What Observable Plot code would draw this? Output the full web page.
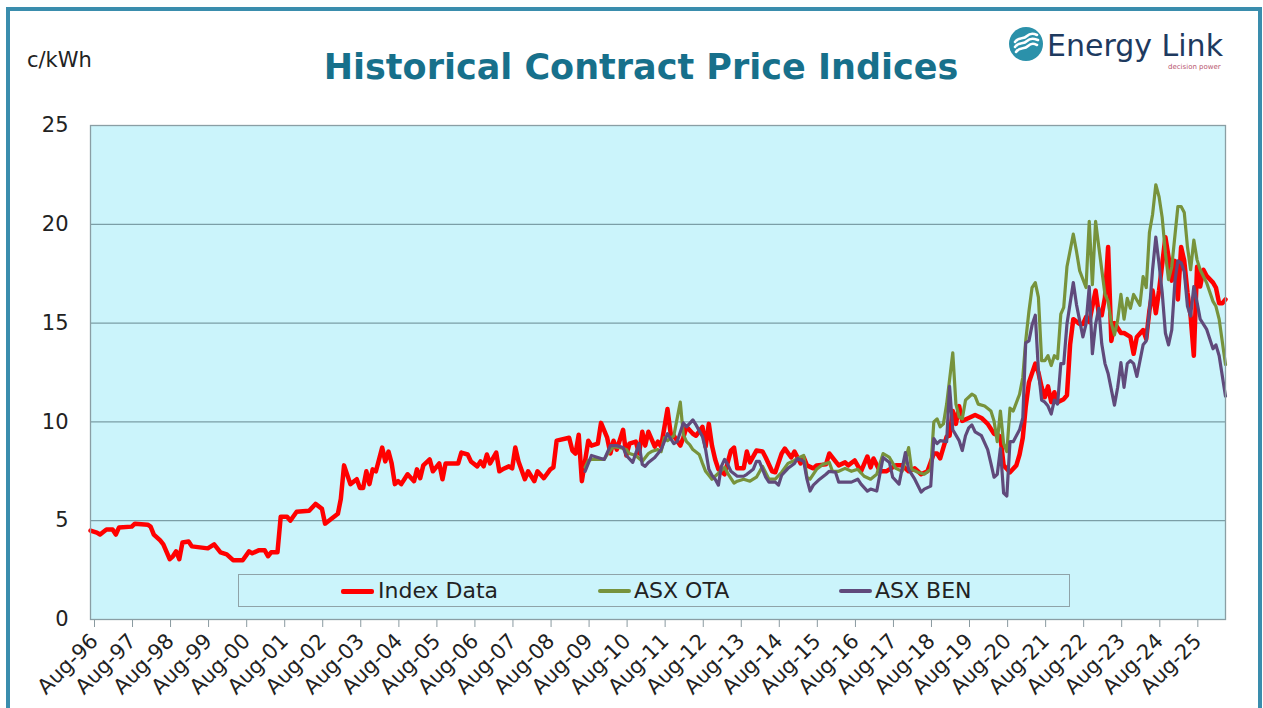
<!DOCTYPE html>
<html>
<head>
<meta charset="utf-8">
<script src="https://cdn.jsdelivr.net/npm/d3@7"></script>
<script src="https://cdn.jsdelivr.net/npm/@observablehq/plot@0.6"></script>
<style>
  html, body { margin: 0; padding: 0; background: #ffffff; }
  body { width: 1263px; height: 708px; overflow: hidden; position: relative; font-family: "DejaVu Sans", sans-serif; }
  #frame { position: absolute; left: 6px; top: 7px; width: 1256px; height: 760px; box-sizing: border-box; border: 4px solid #3a8dad; border-bottom: none; }
  #chart { position: absolute; left: 0; top: 0; }
  #title { position: absolute; left: 0; width: 1282px; top: 50px; text-align: center; font: bold 35px/1 "DejaVu Sans", sans-serif; color: #17708b; white-space: nowrap; }
  #unit { position: absolute; left: 27px; top: 50px; font: 21px/1 "DejaVu Sans", sans-serif; color: #222; }
  #logo { position: absolute; left: 1008px; top: 26px; }
  #brand { position: absolute; left: 1047px; top: 31px; height: 30px; font: 30px/30px "DejaVu Sans", sans-serif; color: #1e3a5f; white-space: nowrap; }
  #tag { position: absolute; left: 1168px; top: 64px; font: 7px/1 "DejaVu Sans", sans-serif; color: #b8566f; white-space: nowrap; }
  #legend { position: absolute; left: 238px; top: 574px; width: 832px; height: 33px; box-sizing: border-box; border: 1px solid #8fa3a8; background: #cbf4fb; }
  .sw { position: absolute; top: 14px; width: 33px; border-radius: 2px; }
  .lt { position: absolute; top: 5px; font: 22px/1 "DejaVu Sans", sans-serif; color: #222; white-space: nowrap; }
</style>
</head>
<body>
<div id="frame"></div>
<div id="chart"></div>
<div id="title">Historical Contract Price Indices</div>
<div id="unit">c/kWh</div>
<svg id="logo" width="36" height="36" viewBox="0 0 36 36">
  <circle cx="18" cy="18" r="17" fill="#2b91aa"/>
  <path d="M7 16 C11 10, 15 14, 19 10 S27 8, 29 9" stroke="#ffffff" stroke-width="2.6" fill="none" stroke-linecap="round"/>
  <path d="M7 21 C11 15, 15 19, 19 15 S27 13, 30 14" stroke="#ffffff" stroke-width="2.6" fill="none" stroke-linecap="round"/>
  <path d="M8 26 C12 20, 16 24, 20 20 S27 18, 29 19" stroke="#ffffff" stroke-width="2.6" fill="none" stroke-linecap="round"/>
</svg>
<div id="brand">Energy Link</div>
<div id="tag">decision power</div>
<div id="legend"></div>
<script>
// Months counted from Aug-1996 (0 = Aug-96), values in c/kWh
const startMonth = "1996-08";
const seriesNames = ["Index Data", "ASX OTA", "ASX BEN"];
const seriesColors = ["#ff0000", "#77933c", "#604a7b"];
const seriesWidths = [4.5, 3.2, 3.2];

const indexData = [[0,4.5],[2,4.4],[3,4.3],[5,4.55],[7,4.55],[8,4.3],[9,4.65],[13,4.7],[14,4.85],[18,4.8],[19,4.7],[20,4.3],[22,4.0],[23,3.8],[25,3.05],[26,3.2],[27,3.45],[28,3.05],[29,3.9],[31,3.95],[32,3.7],[37,3.6],[39,3.8],[41,3.4],[43,3.3],[45,3.0],[48,3.0],[50,3.45],[51,3.35],[53,3.5],[55,3.5],[56,3.2],[57,3.4],[59,3.4],[60,5.2],[62,5.2],[63,5.0],[65,5.45],[69,5.5],[71,5.85],[73,5.6],[74,4.85],[76,5.1],[78,5.35],[79,6.1],[80,7.8],[82,6.85],[84,7.1],[85,6.65],[86,6.65],[87,7.5],[88,6.85],[89,7.6],[90,7.5],[92,8.7],[93,8.0],[94,8.5],[95,7.9],[96,6.85],[97,7.0],[98,6.85],[100,7.35],[102,7.0],[103,7.6],[104,7.15],[105,7.8],[107,8.1],[108,7.5],[110,7.9],[111,7.1],[112,7.9],[116,7.9],[117,8.45],[119,8.35],[120,8.0],[122,7.75],[123,8.0],[124,7.75],[125,8.35],[126,7.9],[128,8.45],[129,7.5],[130,7.6],[132,7.75],[133,7.65],[134,8.7],[135,8.0],[137,7.1],[138,7.5],[140,7.0],[141,7.5],[143,7.15],[145,7.6],[146,7.7],[147,9.05],[151,9.2],[152,8.55],[153,8.4],[154,9.35],[155,7.0],[157,9.05],[158,8.8],[160,8.9],[161,9.95],[163,9.2],[164,8.4],[165,9.05],[166,8.6],[168,9.6],[169,8.3],[170,8.9],[172,9.0],[173,8.4],[174,9.5],[175,8.8],[176,9.5],[178,8.75],[179,9.0],[180,8.75],[182,10.65],[183,9.4],[184,9.3],[186,8.8],[187,9.2],[188,9.75],[190,9.4],[191,9.3],[193,9.75],[194,8.75],[195,9.9],[196,8.8],[197,8.1],[198,7.6],[200,7.35],[202,8.55],[203,8.7],[204,7.65],[206,7.65],[207,8.5],[208,7.95],[210,8.55],[212,8.5],[213,8.2],[215,7.5],[216,7.45],[218,8.4],[219,8.65],[221,8.2],[222,8.5],[224,7.9],[225,8.2],[226,7.8],[228,7.65],[229,7.8],[232,7.85],[233,8.4],[235,8.0],[236,7.8],[238,7.95],[239,7.8],[241,8.05],[243,7.5],[245,8.25],[246,7.7],[247,8.15],[249,7.5],[251,7.5],[254,7.8],[256,7.8],[258,7.5],[260,7.65],[262,7.35],[264,7.5],[266,8.4],[267,8.4],[268,8.15],[270,9.25],[271,9.3],[272,10.55],[273,9.9],[274,10.8],[275,10.05],[277,10.2],[279,10.35],[281,10.2],[283,9.9],[285,9.4],[286,9.35],[287,9.25],[288,7.8],[290,7.45],[292,7.8],[293,8.35],[294,9.2],[295,10.75],[296,12.0],[298,12.95],[299,12.5],[300,11.75],[301,11.25],[302,11.8],[303,11.0],[304,11.5],[305,11.0],[307,11.15],[308,11.35],[309,13.9],[310,15.2],[312,14.95],[313,14.95],[314,15.3],[315,15.05],[317,16.65],[318,15.45],[319,15.4],[320,16.3],[321,18.85],[322,14.1],[323,15.0],[325,14.5],[326,14.5],[328,14.3],[329,13.45],[330,14.3],[332,14.65],[333,14.2],[334,15.65],[335,16.65],[336,15.5],[337,16.65],[339,19.35],[340,18.35],[341,17.15],[342,18.15],[343,16.2],[344,18.85],[345,18.15],[346,16.55],[347,15.35],[348,13.35],[349,17.85],[350,16.85],[351,17.7],[352,17.4],[354,17.05],[355,16.8],[356,16.0],[357,16.0],[358,16.2]];

const otaData = [[156,7.7],[157,8.05],[158,8.1],[160,8.1],[162,8.1],[163,8.35],[165,8.75],[167,8.7],[169,8.6],[170,8.4],[172,8.3],[174,8.0],[176,8.4],[177,8.5],[179,8.6],[180,8.5],[181,9.2],[182,9.05],[184,9.3],[186,11.0],[187,9.35],[188,9.0],[189,8.85],[190,8.6],[192,8.35],[193,7.9],[194,7.5],[195,7.3],[196,7.1],[198,7.4],[200,7.7],[201,7.4],[203,6.9],[204,7.0],[206,7.1],[208,7.0],[210,7.2],[212,7.75],[214,7.1],[216,7.1],[218,7.45],[220,7.9],[222,8.05],[223,8.15],[225,8.3],[226,7.2],[227,7.1],[229,7.6],[231,7.85],[233,7.95],[234,7.5],[236,7.5],[238,7.65],[240,7.5],[242,7.6],[244,7.25],[246,7.1],[248,7.35],[250,8.4],[252,8.2],[254,7.65],[256,7.5],[258,8.7],[259,7.6],[261,7.45],[263,7.35],[265,7.6],[266,10.0],[267,10.15],[268,9.75],[269,9.9],[270,10.9],[272,13.5],[273,10.9],[274,10.25],[275,10.15],[276,11.1],[278,11.4],[279,11.3],[280,10.9],[282,10.8],[284,10.55],[285,10.05],[286,9.0],[287,10.55],[288,8.9],[289,8.5],[290,10.7],[291,10.55],[293,11.4],[294,12.25],[295,14.1],[296,15.6],[297,16.8],[298,17.05],[299,16.3],[300,13.1],[301,13.1],[302,13.35],[303,12.85],[304,13.35],[305,13.2],[306,15.45],[307,15.8],[308,17.85],[310,19.5],[311,18.65],[312,17.65],[314,16.8],[315,20.15],[316,16.95],[317,20.15],[318,18.85],[320,16.45],[321,16.1],[322,15.0],[323,14.4],[324,15.15],[325,16.45],[326,15.2],[327,16.25],[328,15.75],[329,16.45],[331,15.9],[332,17.35],[333,16.8],[334,19.6],[335,20.5],[336,22.0],[337,21.4],[338,20.35],[339,18.55],[340,17.2],[341,17.85],[343,20.9],[344,20.9],[345,20.6],[346,18.85],[347,17.7],[348,19.2],[349,18.2],[350,17.7],[352,17.05],[354,16.1],[355,15.85],[356,15.2],[358,12.9]];

const benData = [[156,7.5],[157,7.9],[158,8.3],[160,8.2],[162,8.1],[164,8.8],[166,8.8],[168,8.7],[169,8.3],[171,7.95],[173,8.9],[174,7.85],[175,7.75],[176,7.95],[178,8.2],[180,8.6],[182,9.4],[184,8.9],[185,9.0],[187,9.95],[188,9.75],[190,10.1],[191,9.85],[193,9.25],[194,8.6],[195,7.6],[196,7.3],[197,7.1],[198,6.8],[199,7.75],[200,8.1],[201,7.85],[202,7.5],[204,7.25],[206,7.25],[207,7.35],[209,7.6],[210,8.0],[211,8.0],[212,7.6],[213,7.2],[214,6.95],[216,6.95],[217,6.8],[218,7.3],[220,7.65],[222,7.9],[223,8.15],[225,8.0],[226,7.1],[227,6.5],[228,6.8],[230,7.1],[232,7.35],[233,7.5],[235,7.45],[236,6.95],[238,6.95],[240,6.95],[242,7.1],[243,6.85],[245,6.5],[246,6.6],[248,6.5],[249,7.35],[250,8.2],[252,7.95],[253,7.2],[255,6.85],[256,7.65],[257,8.45],[258,7.6],[260,7.1],[262,6.45],[263,6.6],[265,6.75],[266,9.15],[267,8.9],[268,9.05],[270,9.0],[271,11.8],[272,9.6],[274,9.05],[275,8.55],[276,9.3],[277,9.7],[278,9.85],[279,9.5],[281,9.3],[283,8.6],[284,7.9],[285,7.2],[286,7.35],[287,8.65],[288,6.4],[289,6.25],[290,9.0],[291,9.0],[293,9.6],[294,10.2],[295,14.0],[296,14.1],[297,14.9],[298,15.4],[299,12.6],[300,11.1],[301,11.0],[302,10.8],[303,10.4],[304,11.1],[305,10.9],[306,12.95],[307,12.95],[308,14.95],[310,17.05],[311,15.95],[313,14.3],[314,14.95],[315,16.85],[316,13.45],[317,14.95],[318,15.75],[319,13.95],[320,12.95],[321,12.45],[323,10.85],[324,11.75],[325,13.0],[326,11.75],[327,12.95],[328,13.1],[329,12.95],[330,12.3],[332,13.9],[333,14.1],[334,15.65],[335,17.7],[336,19.35],[337,18.0],[338,16.55],[339,14.5],[340,13.9],[341,14.65],[342,17.15],[343,18.15],[344,18.05],[345,17.6],[346,15.85],[347,15.35],[348,16.85],[349,16.05],[350,15.2],[352,14.7],[354,13.7],[355,13.9],[356,13.35],[358,11.3]];

const yTicks = [0, 5, 10, 15, 20, 25];
const xTickLabels = ["Aug-96","Aug-97","Aug-98","Aug-99","Aug-00","Aug-01","Aug-02","Aug-03","Aug-04","Aug-05","Aug-06","Aug-07","Aug-08","Aug-09","Aug-10","Aug-11","Aug-12","Aug-13","Aug-14","Aug-15","Aug-16","Aug-17","Aug-18","Aug-19","Aug-20","Aug-21","Aug-22","Aug-23","Aug-24","Aug-25"];
const lastMonth = 358;

const t0 = d3.utcParse("%Y-%m")(startMonth);
const toDate = m => d3.utcMonth.offset(t0, m);
const allSeries = [indexData, otaData, benData];
const rows = allSeries.map((s, i) => s.map(([m, v]) => ({date: toDate(m), value: v, series: seriesNames[i]})));
const xTicks = xTickLabels.map((_, i) => toDate(12 * i));
const labelOf = new Map(xTicks.map((d, i) => [+d, xTickLabels[i]]));

const chart = Plot.plot({
  width: 1263,
  height: 708,
  marginLeft: 90,
  marginRight: 38,
  marginTop: 125,
  marginBottom: 89,
  style: {fontFamily: "DejaVu Sans, sans-serif", fontSize: "21px", color: "#222", background: "transparent", overflow: "visible"},
  x: {type: "utc", domain: [t0, toDate(lastMonth)]},
  y: {domain: [0, 25]},
  marks: [
    Plot.frame({fill: "#cbf4fb", stroke: null}),
    Plot.gridY([5, 10, 15, 20], {stroke: "#7b9ea6", strokeOpacity: 1, strokeWidth: 1.3}),
    Plot.axisY(yTicks, {tickSize: 0, tickPadding: 22, fontSize: 21, fill: "#222", label: null}),
    Plot.axisX(xTicks, {tickSize: 8, tickPadding: 10, dx: 4, tickRotate: -45, fontSize: 21, fill: "#222", stroke: "#8a9aa0", tickFormat: d => labelOf.get(+d), label: null}),
    ...rows.map((r, i) => Plot.line(r, {x: "date", y: "value", stroke: seriesColors[i], strokeWidth: seriesWidths[i], strokeLinejoin: "round", strokeLinecap: "round"})),
    Plot.frame({stroke: "#8a9ea4", strokeWidth: 1.3})
  ]
});
document.getElementById("chart").appendChild(chart);

// legend
const legend = document.getElementById("legend");
const legendPos = [[102, 139], [359, 395], [600, 636]];
seriesNames.forEach((name, i) => {
  const sw = document.createElement("div");
  sw.className = "sw";
  sw.style.left = legendPos[i][0] + "px";
  sw.style.height = (i === 0 ? 5 : 4) + "px";
  sw.style.marginTop = (i === 0 ? -0.5 : 0) + "px";
  sw.style.background = seriesColors[i];
  legend.appendChild(sw);
  const t = document.createElement("div");
  t.className = "lt";
  t.style.left = legendPos[i][1] + "px";
  t.textContent = name;
  legend.appendChild(t);
});
</script>
</body>
</html>
